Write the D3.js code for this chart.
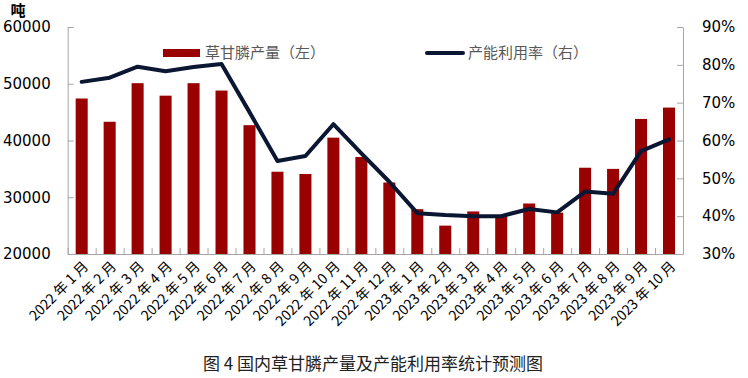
<!DOCTYPE html>
<html>
<head>
<meta charset="utf-8">
<script src="https://cdn.jsdelivr.net/npm/d3@7"></script>
<style>
  body { margin: 0; background: #fff; }
  svg { display: block; }
  .axis path, .axis line { stroke: #a6a6a6; }
</style>
</head>
<body>
<div id="chart"></div>
<script>
// 月份
const meses = ["2022 年 1 月", "2022 年 2 月", "2022 年 3 月", "2022 年 4 月", "2022 年 5 月", "2022 年 6 月",
  "2022 年 7 月", "2022 年 8 月", "2022 年 9 月", "2022 年 10 月", "2022 年 11 月", "2022 年 12 月",
  "2023 年 1 月", "2023 年 2 月", "2023 年 3 月", "2023 年 4 月", "2023 年 5 月", "2023 年 6 月",
  "2023 年 7 月", "2023 年 8 月", "2023 年 9 月", "2023 年 10 月"];
// 草甘膦产量 (吨)
const produccion = [47400, 43300, 50100, 47900, 50100, 48800, 42700, 34500, 34100, 40500, 37100, 32600,
  27900, 25000, 27500, 26800, 28900, 27300, 35200, 35000, 43800, 45800];
// 产能利用率 (%)
const utilizacion = [75.5, 76.6, 79.5, 78.3, 79.4, 80.2, 67.5, 54.6, 55.9, 64.3, 56.6, 49.1,
  40.8, 40.3, 40.0, 40.0, 41.9, 41.0, 46.5, 45.9, 57.2, 60.3];
const ticksIzq = [20000, 30000, 40000, 50000, 60000];
const ticksDer = [30, 40, 50, 60, 70, 80, 90];

const width = 748, height = 378;
const mLeft = 67.7, mRight = 683, mTop = 27, mBottom = 254;

const svg = d3.select("#chart")
  .append("svg")
  .attr("width", width)
  .attr("height", height);

const x = d3.scaleBand()
  .domain(meses)
  .range([mLeft, mRight])
  .paddingInner(0.57)
  .paddingOuter(0.285);

const xi = d3.scaleLinear()
  .domain([0, meses.length])
  .range([mLeft, mRight]);

const y = d3.scaleLinear().domain([20000, 60000]).range([mBottom, mTop]);
const y2 = d3.scaleLinear().domain([30, 90]).range([mBottom, mTop]);

// bars
svg.selectAll("rect.bar")
  .data(produccion)
  .enter()
  .append("rect")
  .attr("class", "bar")
  .attr("x", (d, i) => x(meses[i]))
  .attr("y", d => y(d))
  .attr("width", x.bandwidth())
  .attr("height", d => y(20000) - y(d))
  .attr("fill", "#990000");

// axes
const ejeIzq = svg.append("g")
  .attr("class", "axis")
  .attr("transform", `translate(${mLeft},0)`)
  .call(d3.axisLeft(y).tickValues(ticksIzq).tickFormat(d3.format("d"))
    .tickSize(-6).tickSizeOuter(0).tickPadding(17));

const ejeDer = svg.append("g")
  .attr("class", "axis")
  .attr("transform", `translate(${mRight},0)`)
  .call(d3.axisRight(y2).tickValues(ticksDer).tickFormat(d => d + "%")
    .tickSize(-6).tickSizeOuter(0).tickPadding(19));

[ejeIzq, ejeDer].forEach(g => g.selectAll("text")
  .attr("fill", "#000")
  .style("font-family", "'DejaVu Sans', sans-serif")
  .style("font-size", "15px"));

svg.append("g")
  .attr("class", "axis")
  .attr("transform", `translate(0,${mBottom})`)
  .call(d3.axisBottom(xi).tickValues(d3.range(meses.length + 1))
    .tickSize(-6).tickSizeOuter(0).tickFormat(""));

// x labels
svg.append("g")
  .selectAll("text")
  .data(meses)
  .enter()
  .append("text")
  .attr("transform", d => `translate(${x(d) + x.bandwidth() / 2 + 4},${mBottom + 10}) rotate(-45)`)
  .attr("text-anchor", "end")
  .attr("dy", "0.35em")
  .style("font-family", "'Noto Sans CJK SC', sans-serif")
  .style("font-size", "14px")
  .attr("fill", "#000")
  .text(d => d);

// line
const linea = d3.line()
  .x((d, i) => x(meses[i]) + x.bandwidth() / 2)
  .y(d => y2(d));

svg.append("path")
  .datum(utilizacion)
  .attr("d", linea)
  .attr("fill", "none")
  .attr("stroke", "#0b1633")
  .attr("stroke-width", 4)
  .attr("stroke-linejoin", "round")
  .attr("stroke-linecap", "round");

// unidad
svg.append("text")
  .attr("x", 18)
  .attr("y", 16)
  .attr("text-anchor", "middle")
  .style("font-family", "'Noto Sans CJK SC', sans-serif")
  .style("font-size", "15px")
  .style("font-weight", "bold")
  .text("吨");

// leyenda
svg.append("rect")
  .attr("x", 163).attr("y", 49)
  .attr("width", 37).attr("height", 8)
  .attr("fill", "#990000");
svg.append("text")
  .attr("x", 205).attr("y", 53)
  .attr("dy", "0.35em")
  .attr("fill", "#595959")
  .style("font-family", "'Noto Sans CJK SC', sans-serif")
  .style("font-size", "15px")
  .text("草甘膦产量（左）");

svg.append("line")
  .attr("x1", 427).attr("x2", 463)
  .attr("y1", 53).attr("y2", 53)
  .attr("stroke", "#0b1633")
  .attr("stroke-width", 4)
  .attr("stroke-linecap", "round");
svg.append("text")
  .attr("x", 468).attr("y", 53)
  .attr("dy", "0.35em")
  .attr("fill", "#595959")
  .style("font-family", "'Noto Sans CJK SC', sans-serif")
  .style("font-size", "15px")
  .text("产能利用率（右）");

// titulo
svg.append("text")
  .attr("x", 373)
  .attr("y", 370)
  .attr("text-anchor", "middle")
  .attr("fill", "#222")
  .style("font-family", "'Noto Sans CJK SC', sans-serif")
  .style("font-size", "17px")
  .text("图 4  国内草甘膦产量及产能利用率统计预测图");
</script>
</body>
</html>
